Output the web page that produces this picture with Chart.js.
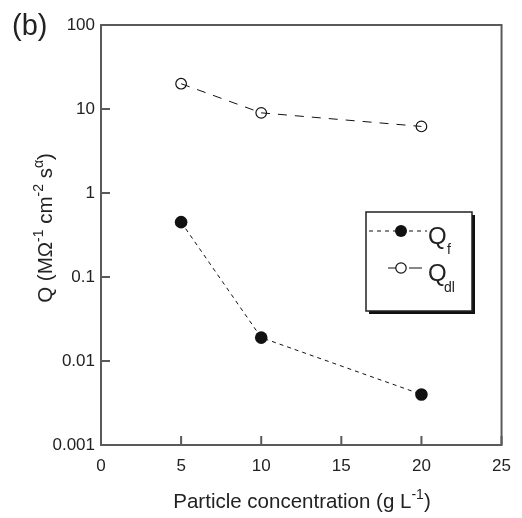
<!DOCTYPE html>
<html>
<head>
<meta charset="utf-8">
<script src="https://cdn.jsdelivr.net/npm/chart.js@4.4.1/dist/chart.umd.min.js"></script>
<style>
  html, body { margin: 0; padding: 0; background: #fff; }
  #chart { display: block; }
</style>
</head>
<body>
<canvas id="chart" width="522" height="518"></canvas>
<script>
// data
const concentration = [5, 10, 20];
const qf  = [0.45, 0.019, 0.004];
const qdl = [20, 9, 6.2];

const xTicks = [0, 5, 10, 15, 20, 25];
const yTicks = [0.001, 0.01, 0.1, 1, 10, 100];
const yTickLabels = ["0.001", "0.01", "0.1", "1", "10", "100"];

const FONT = '"Liberation Sans", Arial, Helvetica, sans-serif';
const INK  = "#222";
const AXIS = "#5a5a5a";

// draws a run of text pieces (normal + superscript/subscript), rotated if needed
function drawRich(ctx, parts, x, y, rotate) {
  ctx.save();
  ctx.translate(x, y);
  if (rotate) ctx.rotate(-Math.PI / 2);
  ctx.fillStyle = INK;
  ctx.textBaseline = "alphabetic";
  ctx.textAlign = "left";
  let total = 0;
  for (const p of parts) {
    ctx.font = `${p.size}px ${FONT}`;
    total += ctx.measureText(p.t).width;
  }
  let cx = -total / 2;
  for (const p of parts) {
    ctx.font = `${p.size}px ${FONT}`;
    ctx.fillText(p.t, cx, p.dy || 0);
    cx += ctx.measureText(p.t).width;
  }
  ctx.restore();
}

const framePlugin = {
  id: "frame",
  beforeDatasetsDraw(chart) {
    const { ctx, chartArea: a, scales } = chart;
    ctx.save();
    ctx.strokeStyle = AXIS;
    ctx.lineWidth = 2;
    ctx.strokeRect(a.left, a.top, a.right - a.left, a.bottom - a.top);
    ctx.beginPath();
    for (const v of xTicks) {
      const px = scales.x.getPixelForValue(v);
      ctx.moveTo(px, a.bottom);
      ctx.lineTo(px, a.bottom - 9);
    }
    for (const v of yTicks) {
      const py = scales.y.getPixelForValue(v);
      ctx.moveTo(a.left, py);
      ctx.lineTo(a.left + 9, py);
    }
    ctx.stroke();
    ctx.restore();
  },
  afterDraw(chart) {
    const ctx = chart.ctx;

    // panel letter
    ctx.save();
    ctx.fillStyle = INK;
    ctx.font = `29px ${FONT}`;
    ctx.textBaseline = "alphabetic";
    ctx.fillText("(b)", 12, 35);
    ctx.restore();

    // axis titles
    drawRich(ctx, [
      { t: "Particle concentration (g L", size: 20.5 },
      { t: "-1", size: 14, dy: -9 },
      { t: ")", size: 20.5 }
    ], 302, 508, false);

    drawRich(ctx, [
      { t: "Q (M\u03A9", size: 20.5 },
      { t: "-1", size: 14, dy: -9 },
      { t: " cm", size: 20.5 },
      { t: "-2", size: 14, dy: -9 },
      { t: " s", size: 20.5 },
      { t: "\u03B1", size: 14, dy: -9 },
      { t: ")", size: 20.5 }
    ], 52, 228, true);

    // legend box with drop shadow
    const bx = 366, by = 212, bw = 106, bh = 99;
    ctx.save();
    ctx.fillStyle = "#111";
    ctx.fillRect(bx + 3, by + 3, bw, bh);
    ctx.fillStyle = "#fff";
    ctx.fillRect(bx, by, bw, bh);
    ctx.strokeStyle = "#222";
    ctx.lineWidth = 1.5;
    ctx.strokeRect(bx, by, bw, bh);

    ctx.strokeStyle = "#111";
    ctx.lineWidth = 1;
    // Qf sample
    ctx.setLineDash([4, 4]);
    ctx.beginPath();
    ctx.moveTo(369, 231);
    ctx.lineTo(427, 231);
    ctx.stroke();
    ctx.setLineDash([]);
    ctx.fillStyle = "#111";
    ctx.beginPath();
    ctx.arc(401, 231, 6, 0, Math.PI * 2);
    ctx.fill();
    // Qdl sample
    ctx.beginPath();
    ctx.moveTo(388, 268);
    ctx.lineTo(396, 268);
    ctx.moveTo(409, 268);
    ctx.lineTo(422, 268);
    ctx.stroke();
    ctx.lineWidth = 1.2;
    ctx.beginPath();
    ctx.arc(401, 268, 5.2, 0, Math.PI * 2);
    ctx.stroke();

    ctx.fillStyle = INK;
    ctx.textBaseline = "alphabetic";
    ctx.font = `24px ${FONT}`;
    ctx.fillText("Q", 428, 244);
    ctx.fillText("Q", 428, 281);
    ctx.font = `14px ${FONT}`;
    ctx.fillText("f", 447, 254);
    ctx.fillText("dl", 444, 292);
    ctx.restore();
  }
};

const ctx = document.getElementById("chart").getContext("2d");

new Chart(ctx, {
  type: "line",
  data: {
    datasets: [
      {
        label: "Qf",
        data: concentration.map((x, i) => ({ x, y: qf[i] })),
        borderColor: "#111",
        borderWidth: 1,
        borderDash: [4, 4],
        pointRadius: 6.3,
        pointBackgroundColor: "#111",
        pointBorderColor: "#111",
        pointBorderWidth: 0,
        tension: 0
      },
      {
        label: "Qdl",
        data: concentration.map((x, i) => ({ x, y: qdl[i] })),
        borderColor: "#111",
        borderWidth: 1,
        borderDash: [9, 8],
        pointRadius: 5.3,
        pointBackgroundColor: "rgba(0,0,0,0)",
        pointBorderColor: "#111",
        pointBorderWidth: 1.2,
        tension: 0
      }
    ]
  },
  options: {
    responsive: false,
    animation: false,
    layout: { padding: { left: 0, top: 25, right: 19, bottom: 0 } },
    plugins: {
      legend: { display: false },
      tooltip: { enabled: false }
    },
    scales: {
      x: {
        type: "linear",
        min: 0,
        max: 25,
        afterBuildTicks: s => { s.ticks = xTicks.map(v => ({ value: v })); },
        afterFit: s => { s.height = 73; },
        grid: { display: false, drawTicks: false },
        border: { display: false },
        ticks: {
          padding: 11,
          color: INK,
          autoSkip: false,
          maxRotation: 0,
          font: { family: FONT, size: 17 },
          callback: v => String(v)
        }
      },
      y: {
        type: "logarithmic",
        min: 0.001,
        max: 100,
        afterBuildTicks: s => { s.ticks = yTicks.map(v => ({ value: v })); },
        afterFit: s => { s.width = 101; },
        grid: { display: false, drawTicks: false },
        border: { display: false },
        ticks: {
          padding: 6,
          color: INK,
          autoSkip: false,
          font: { family: FONT, size: 17 },
          callback: v => {
            const i = yTicks.findIndex(t => Math.abs(Math.log10(t) - Math.log10(v)) < 1e-6);
            return i >= 0 ? yTickLabels[i] : "";
          }
        }
      }
    }
  },
  plugins: [framePlugin]
});
</script>
</body>
</html>
